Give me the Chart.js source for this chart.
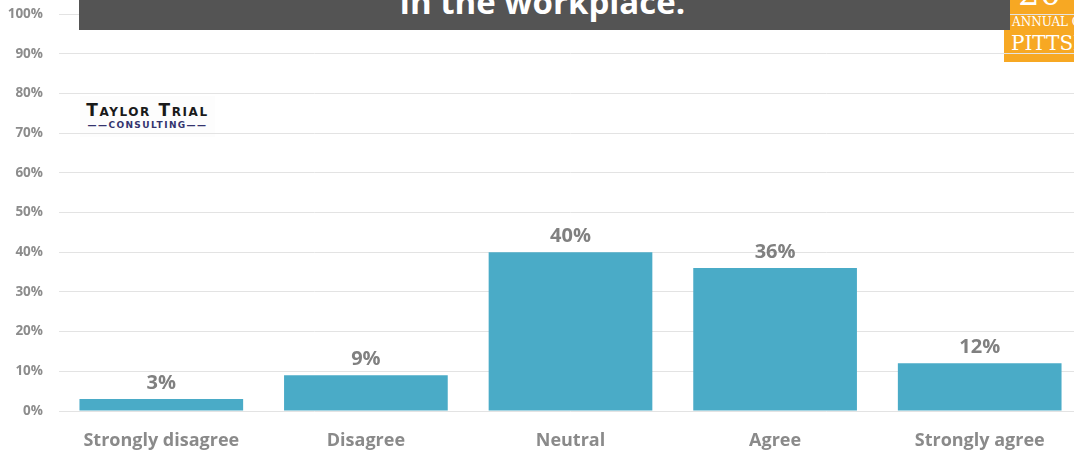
<!DOCTYPE html>
<html>
<head>
<meta charset="utf-8">
<script src="https://cdn.jsdelivr.net/npm/chart.js@4.4.0/dist/chart.umd.min.js"></script>
<style>
  html, body { margin: 0; padding: 0; background: #fff; }
  body { width: 1074px; height: 457px; overflow: hidden; position: relative; font-family: "Open Sans", sans-serif; }
  #chart { position: absolute; left: 0; top: -10px; z-index: 2; }
  .title-bar {
    position: absolute; left: 79px; top: 0; width: 931px; height: 30px;
    background: #545454; overflow: hidden; z-index: 3;
  }
  .title-bar div {
    position: absolute; left: 0; right: 4px; top: -15px;
    text-align: center; color: #fff; font-weight: 700; font-size: 33px; line-height: 33px;
  }
  .badge {
    position: absolute; left: 1004px; top: 0; width: 80px; height: 62px;
    background: #f7a823; overflow: hidden; z-index: 1; color: #fff;
    font-family: "DejaVu Serif", serif;
  }
  .badge .year { position: absolute; left: 14px; top: -24px; font-size: 34px; line-height: 34px; }
  .badge .sub { position: absolute; left: 8px; top: 15px; font-size: 12px; line-height: 14px; }
  .badge .city { position: absolute; left: 7px; top: 31px; font-size: 20px; line-height: 24px; }
  .logo {
    position: absolute; left: 80px; top: 96px; width: 135px; height: 41px;
    background: #fdfdfd; z-index: 1; text-align: center;
  }
  .logo .name {
    position: absolute; left: 0; right: 0; top: 5px;
    font-family: "DejaVu Sans", sans-serif; font-weight: 700; font-size: 17px; line-height: 18px;
    font-variant: small-caps; color: #1a1a1a; letter-spacing: 1.6px;
  }
  .logo .firm {
    position: absolute; left: 0; right: 0; top: 24px;
    font-family: "DejaVu Sans", sans-serif; font-weight: 700; font-size: 9px; line-height: 10px;
    color: #34346e; letter-spacing: 1.4px;
  }
</style>
</head>
<body>
<div class="logo"><div class="name">Taylor Trial</div><div class="firm">——CONSULTING——</div></div>
<div class="badge"><div class="year">20</div><div class="sub">ANNUAL C</div><div class="city">PITTSB</div></div>
<canvas id="chart" width="1090" height="467"></canvas>
<div class="title-bar"><div>in the workplace.</div></div>
<script>
const categories = ["Strongly disagree", "Disagree", "Neutral", "Agree", "Strongly agree"];
const shares = [3, 9, 40, 36, 12];
const yTickStep = 10;
const yMax = 100;

const barColor = "#4aabc7";
const labelGray = "#808080";

// percentage above each bar
const valueLabels = {
  id: "valueLabels",
  afterDatasetsDraw(chart) {
    const ctx = chart.ctx;
    const meta = chart.getDatasetMeta(0);
    ctx.save();
    ctx.font = "700 20px 'Open Sans'";
    ctx.fillStyle = labelGray;
    ctx.textAlign = "center";
    ctx.textBaseline = "alphabetic";
    meta.data.forEach((bar, i) => {
      ctx.fillText(shares[i] + "%", bar.x, bar.y - 10);
    });
    ctx.restore();
  },
};

new Chart(document.getElementById("chart"), {
  type: "bar",
  data: {
    labels: categories,
    datasets: [
      {
        data: shares,
        backgroundColor: barColor,
        borderWidth: 0,
        categoryPercentage: 0.8,
        barPercentage: 1,
      },
    ],
  },
  options: {
    responsive: false,
    devicePixelRatio: 1,
    animation: false,
    layout: { padding: { top: 2, right: 8, left: 0, bottom: 0 } },
    plugins: {
      legend: { display: false },
      tooltip: { enabled: false },
    },
    scales: {
      x: {
        grid: { display: false, drawTicks: false },
        border: { display: false },
        ticks: {
          color: "#8a8a8a",
          font: { family: "'Open Sans'", size: 18, weight: "700" },
          padding: 19,
          maxRotation: 0,
        },
        afterFit(scale) {
          scale.height = 46;
        },
      },
      y: {
        min: 0,
        max: yMax,
        grid: { color: "#e3e3e3", lineWidth: 1, drawTicks: false },
        border: { display: false },
        ticks: {
          stepSize: yTickStep,
          color: "#8c8c8c",
          font: { family: "'Open Sans'", size: 13.5, weight: "700" },
          padding: 16,
          callback: (v) => v + "%",
        },
        afterFit(scale) {
          scale.width = 59;
        },
      },
    },
  },
  plugins: [valueLabels],
});
</script>
</body>
</html>
